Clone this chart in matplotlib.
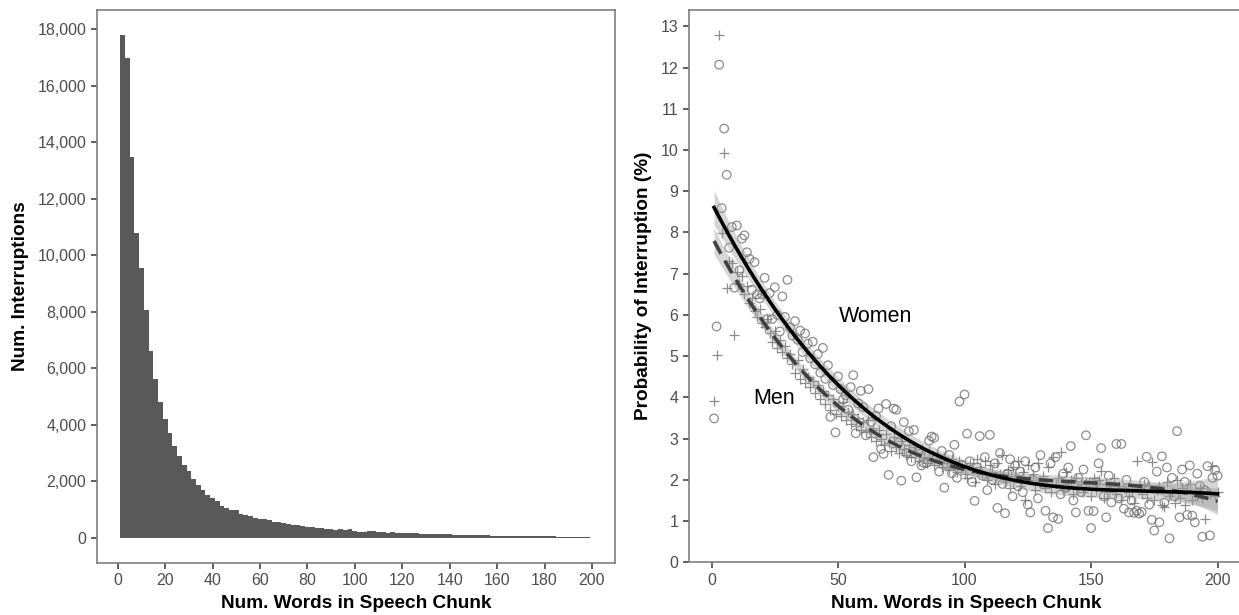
#!/usr/bin/env python3

import numpy as np
import matplotlib.pyplot as plt
from matplotlib.ticker import FuncFormatter

# histogram: counts per 2-word bin, first bin starts at 1 word
bin_start = 1
bin_width = 2
hist_counts = [
    17800, 17000, 13470, 10800, 9550, 8060, 6620, 5610, 4790, 4210,
    3700, 3230, 2880, 2580, 2350, 2080, 1870, 1670, 1520, 1400,
    1280, 1110, 1050, 970, 970, 850, 810, 750, 700, 670,
    670, 610, 550, 550, 520, 480, 460, 440, 400, 360,
    360, 340, 340, 320, 310, 280, 300, 280, 300, 250,
    200, 200, 250, 220, 200, 190, 180, 190, 180, 170,
    170, 160, 150, 140, 140, 130, 130, 120, 120, 110,
    100, 100, 90, 90, 90, 80, 80, 80, 70, 70,
    70, 60, 60, 60, 50, 50, 50, 50, 40, 40,
    40, 40, 30, 30, 30, 30, 20, 20, 20,
]

# probability of interruption (%) by chunk length, 1..200 words
women_prob = [
    3.49, 5.72, 12.07, 8.59, 10.52, 9.40, 7.63, 8.13, 6.66, 8.17,
    7.08, 7.85, 7.93, 7.52, 7.36, 6.61, 7.28, 6.50, 6.40, 6.50,
    6.90, 5.90, 6.53, 5.90, 6.67, 6.00, 5.60, 6.45, 5.95, 6.85,
    5.70, 5.50, 5.85, 5.40, 5.62, 5.10, 5.55, 5.30, 4.95, 5.35,
    4.80, 5.05, 4.60, 5.20, 4.45, 4.78, 3.53, 4.30, 3.15, 4.51,
    4.20, 3.95, 4.05, 3.70, 4.25, 4.54, 3.13, 3.85, 4.16, 3.76,
    3.08, 4.20, 3.40, 2.55, 3.55, 3.73, 2.75, 2.63, 3.84, 2.12,
    3.30, 3.73, 3.70, 2.90, 1.98, 3.40, 2.65, 3.18, 2.45, 3.21,
    2.06, 2.70, 2.35, 2.41, 2.41, 2.95, 3.05, 3.02, 2.55, 2.20,
    2.70, 1.81, 2.36, 2.60, 2.16, 2.85, 2.05, 3.90, 2.36, 4.07,
    3.12, 2.45, 1.95, 1.49, 2.30, 3.06, 2.10, 2.55, 1.75, 3.09,
    2.00, 2.40, 1.32, 2.65, 1.90, 1.19, 2.15, 2.50, 1.60, 2.35,
    1.85, 2.20, 1.70, 2.45, 1.40, 1.21, 2.00, 2.30, 1.55, 2.60,
    1.90, 1.25, 0.83, 2.40, 1.09, 2.55, 1.05, 1.65, 2.15, 1.80,
    2.30, 2.82, 1.50, 1.21, 2.05, 1.70, 2.25, 3.08, 1.25, 0.83,
    1.24, 1.95, 2.40, 2.77, 1.60, 1.09, 2.10, 1.45, 1.80, 2.87,
    1.55, 2.87, 1.30, 2.00, 1.21, 1.50, 1.20, 1.25, 1.18, 1.22,
    1.95, 2.56, 1.40, 1.03, 0.77, 2.20, 0.97, 2.57, 1.45, 2.30,
    0.58, 2.05, 1.60, 3.18, 1.09, 2.25, 1.95, 1.15, 2.35, 1.13,
    0.97, 2.15, 1.85, 0.62, 1.75, 2.33, 0.65, 2.05, 2.24, 2.10,
]
men_prob = [
    3.91, 5.04, 12.79, 7.98, 9.93, 6.66, 7.30, 7.25, 5.52, 7.05,
    6.76, 6.95, 6.50, 6.70, 6.28, 6.40, 6.10, 5.95, 6.15, 5.80,
    5.70, 5.90, 5.55, 5.35, 5.60, 5.20, 5.40, 5.10, 5.25, 4.95,
    5.05, 4.80, 4.60, 4.90, 4.45, 4.70, 4.35, 4.50, 4.25, 4.40,
    4.10, 4.30, 3.95, 4.15, 3.85, 4.05, 3.70, 3.95, 3.60, 3.80,
    3.55, 3.90, 3.45, 3.65, 3.35, 3.60, 3.30, 3.50, 3.20, 3.40,
    3.15, 3.45, 3.05, 3.25, 2.95, 3.20, 3.00, 2.85, 3.10, 2.90,
    2.70, 3.05, 2.80, 2.65, 2.95, 2.75, 2.60, 2.85, 2.55, 2.80,
    2.65, 2.45, 2.75, 2.55, 2.40, 2.70, 2.50, 2.35, 2.60, 2.45,
    2.30, 2.55, 2.40, 2.25, 2.50, 2.35, 2.20, 2.45, 2.30, 2.15,
    2.05, 2.40, 2.25, 1.95, 2.50, 2.30, 2.15, 2.45, 2.00, 2.35,
    2.20, 1.90, 2.40, 2.15, 2.60, 1.95, 2.25, 1.80, 2.30, 2.10,
    2.45, 1.85, 2.20, 1.50, 2.35, 2.00, 2.15, 1.75, 2.40, 1.95,
    2.10, 1.80, 2.30, 1.70, 2.55, 1.90, 2.05, 2.67, 1.75, 2.20,
    1.85, 2.00, 1.65, 2.05, 1.80, 1.90, 1.70, 1.95, 1.95, 1.60,
    2.05, 1.75, 2.00, 2.22, 1.55, 1.90, 1.70, 1.85, 2.05, 1.65,
    1.85, 1.50, 1.80, 1.75, 1.60, 1.75, 1.45, 2.45, 1.80, 1.65,
    1.90, 1.55, 1.85, 2.43, 1.50, 1.75, 1.85, 1.40, 1.35, 1.95,
    1.60, 1.70, 1.45, 2.00, 1.55, 1.80, 1.40, 1.75, 1.90, 1.50,
    1.65, 1.60, 1.80, 1.55, 1.05, 1.70, 1.65, 2.34, 1.60, 1.70,
]

TICK_GREY = '#4d4d4d'
FRAME_GREY = '#7f7f7f'


def cubic_fit(x, y, xs):
    # lm(y ~ poly(x, 3)) with a 95% band, like geom_smooth
    X = np.vander(x, 4)
    coef = np.linalg.lstsq(X, y, rcond=None)[0]
    resid = y - X @ coef
    s2 = resid @ resid / (len(x) - 4)
    cov = s2 * np.linalg.inv(X.T @ X)
    Xs = np.vander(xs, 4)
    fit = Xs @ coef
    se = np.sqrt(np.einsum('ij,jk,ik->i', Xs, cov, Xs))
    return fit, fit - 1.97 * se, fit + 1.97 * se


def style_axes(ax):
    for side in ax.spines:
        ax.spines[side].set_color(FRAME_GREY)
        ax.spines[side].set_linewidth(1.2)
    ax.tick_params(colors='#333333', labelcolor=TICK_GREY, labelsize=11.5,
                   length=4, width=1.1)


def main():
    plt.rcParams['font.family'] = ['Liberation Sans', 'DejaVu Sans']
    fig = plt.figure(figsize=(12.39, 6.15), dpi=100)

    # left: histogram of chunk lengths
    ax1 = fig.add_axes([0.078, 0.085, 0.4185, 0.899])
    counts = np.array(hist_counts)
    edges = bin_start + bin_width * np.arange(len(counts))
    ax1.bar(edges, counts, width=bin_width, align='edge', color='#595959',
            linewidth=0)
    ax1.set_xlim(-8.9, 209.8)
    ax1.set_ylim(-890, 18690)
    ax1.set_xticks(np.arange(0, 201, 20))
    ax1.set_yticks(np.arange(0, 18001, 2000))
    ax1.yaxis.set_major_formatter(FuncFormatter(lambda v, p: f"{int(v):,}"))
    ax1.set_xlabel("Num. Words in Speech Chunk", fontsize=13.7,
                   fontweight='bold', labelpad=5)
    ax1.set_ylabel("Num. Interruptions", fontsize=13.7, fontweight='bold',
                   labelpad=6)
    style_axes(ax1)

    # right: probability of interruption with cubic fits
    ax2 = fig.add_axes([0.556, 0.0857, 0.447, 0.8983])
    words = np.arange(1, len(women_prob) + 1, dtype=float)
    w = np.array(women_prob)
    m = np.array(men_prob)
    ax2.scatter(words, w, s=38, marker='o', facecolors='none',
                edgecolors='#707070', linewidths=0.9, alpha=0.8, zorder=2)
    ax2.scatter(words, m, s=60, marker='+', color='#707070',
                linewidths=0.9, alpha=0.8, zorder=2)

    xs = np.linspace(1, 200, 300)
    w_fit, w_lo, w_hi = cubic_fit(words, w, xs)
    m_fit, m_lo, m_hi = cubic_fit(words, m, xs)
    ax2.fill_between(xs, w_lo, w_hi, color='#999999', alpha=0.4,
                     linewidth=0, zorder=3)
    ax2.fill_between(xs, m_lo, m_hi, color='#999999', alpha=0.4,
                     linewidth=0, zorder=3)
    ax2.plot(xs, m_fit, color='#404040', lw=2.6, ls=(0, (4, 2.2)), zorder=4)
    ax2.plot(xs, w_fit, color='black', lw=2.6, zorder=5)

    ax2.text(50.2, 5.96, "Women", fontsize=15.5, va='center', ha='left')
    ax2.text(16.6, 3.97, "Men", fontsize=15.5, va='center', ha='left')

    ax2.set_xlim(-8.95, 209.95)
    ax2.set_ylim(0, 13.4)
    ax2.set_xticks([0, 50, 100, 150, 200])
    ax2.set_yticks(np.arange(0, 14, 1))
    ax2.set_xlabel("Num. Words in Speech Chunk", fontsize=13.7,
                   fontweight='bold', labelpad=5)
    ax2.set_ylabel("Probability of Interruption (%)", fontsize=13.7,
                   fontweight='bold', labelpad=6)
    style_axes(ax2)

    fig.savefig("out.png", dpi=100)


if __name__ == '__main__':
    main()
